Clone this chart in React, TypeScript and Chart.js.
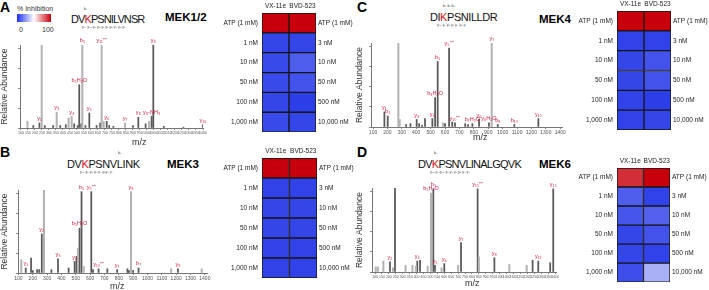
import React, { useEffect, useRef } from 'react';
import { Chart, registerables } from 'chart.js';
Chart.register(...registerables);

const FONT = '"Liberation Sans", Arial, Helvetica, sans-serif';
const RED = '#d3173e';
Chart.defaults.font.family = FONT;

// ---------- Spectra data (m/z, relative intensity %, dark bar flag, fragment label) ----------
const aMz = [146, 188, 232, 248, 270, 330, 355, 380, 420, 440, 462, 480, 505, 516, 530, 538, 560, 588, 640, 665, 676, 690, 712, 730, 760, 843, 900, 938, 990, 1015, 1033, 1045, 1120, 1260, 1400];
const aInt = [8, 3, 6, 100, 3, 3, 19, 3, 4, 12, 14, 5, 3, 52, 5, 100, 3, 18, 3, 6, 100, 8, 8, 3, 2, 6, 3, 13, 5, 8, 14, 100, 2, 1, 4];
const aDark = [0, 1, 1, 0, 1, 1, 0, 1, 1, 0, 0, 1, 1, 1, 1, 0, 1, 1, 1, 1, 0, 0, 1, 1, 1, 0, 1, 1, 1, 0, 1, 1, 1, 1, 1];
const aLbl = ['', '', 'y₁', '', '', '', 'y₃', '', '', '', 'y₄', '', '', 'b₅H₂O', '', 'b₅', '', 'y₅', '', '', 'y₁₁⁺⁺', '', 'y₆', '', '', 'y₇', '', 'y₈', '', '', 'y₈-NH₃', 'y₉', '', '', 'y₁₆'];

const bMz = [120, 151, 188, 200, 230, 245, 263, 278, 330, 376, 450, 492, 505, 515, 526, 540, 555, 608, 620, 659, 720, 788, 860, 870, 885, 900, 938, 1165, 1212, 1378];
const bInt = [16, 6, 18, 3, 4, 4, 47, 100, 4, 17, 6, 14, 20, 30, 54, 98, 8, 98, 4, 5, 5, 4, 5, 3, 98, 3, 6, 5, 5, 5];
const bDark = [0, 1, 1, 1, 1, 1, 1, 0, 1, 1, 1, 1, 1, 0, 1, 1, 0, 1, 1, 1, 1, 1, 1, 1, 0, 1, 1, 0, 1, 0];
const bLbl = ['', 'y₁', '', '', '', '', 'y₂', '', '', 'y₃', '', 'y₄', '', '', 'b₅H₂O', 'b₅', '', 'y₅⁺⁺', '', 'y₁₀⁺⁺', '', 'y₇', '', '', 'y₈', '', 'b₇', '', 'y₉', ''];

const cMz = [179, 202, 276, 285, 330, 360, 403, 420, 440, 461, 512, 531, 549, 585, 600, 628, 650, 669, 740, 760, 790, 836, 905, 924, 966, 1081, 1248];
const cInt = [18, 13, 100, 9, 3, 4, 9, 4, 2, 10, 10, 35, 78, 5, 4, 94, 6, 5, 4, 3, 4, 9, 5, 100, 3, 3, 10];
const cDark = [1, 1, 0, 0, 1, 1, 1, 1, 1, 1, 1, 1, 1, 0, 1, 1, 1, 1, 1, 1, 1, 1, 1, 0, 1, 1, 1];
const cLbl = ['y₁', 'b₂', '', '', '', '', 'y₃', '', '', '', 'y₄', 'b₃H₂O', 'b₅', '', '', 'y₅⁺⁺', '', 'y₁₀⁺⁺', '', '', 'b₇H₂O', 'y₆', 'y₆H₂O', 'y₇', 'b₉', 'b₁₀', 'y₁₀'];

const dMz = [105, 120, 160, 208, 230, 244, 320, 370, 395, 405, 425, 480, 504, 521, 533, 580, 600, 700, 721, 841, 850, 962, 1070, 1195, 1238, 1279, 1365, 1387];
const dInt = [6, 6, 13, 12, 5, 100, 8, 8, 7, 13, 14, 7, 94, 99, 8, 5, 10, 8, 35, 99, 18, 17, 9, 8, 14, 13, 11, 99];
const dDark = [0, 0, 0, 1, 0, 1, 0, 0, 0, 1, 1, 0, 0, 1, 1, 0, 1, 0, 1, 1, 0, 1, 0, 0, 1, 1, 1, 1];
const dLbl = ['', '', '', 'y₂', '', '', '', '', '', 'y₄', '', '', 'b₅H₂O', 'b₅', 'y₅', '', 'y₆', '', 'y₇', 'y₁₅⁺⁺', '', 'y₈', '', '', '', 'y₁₂', '', 'y₁₅'];

// ---------- Heatmap data (% inhibition) ----------
const drugs = ['VX-11e', 'BVD-523'];
const vxConc = ['ATP (1 mM)', '1 nM', '10 nM', '50 nM', '100 nM', '1,000 nM'];
const bvdConc = ['ATP (1 mM)', '3 nM', '10 nM', '50 nM', '500 nM', '10,000 nM'];
const aVX = [100, 3, 4, 4, 3, 4];
const aBVD = [100, 3, 9, 6, 1, 3];
const bVX = [100, 2, 3, 3, 2, 2];
const bBVD = [100, 2, 3, 3, 2, 2];
const cVX = [100, 2, 3, 3, 2, 2];
const cBVD = [100, 2, 6, 6, 1, 3];
const dVX = [91, 9, 7, 3, 3, 5];
const dBVD = [100, 2, 10, 6, 2, 30];

function cellColor(v: number): string {
  const lo = [40, 58, 232], mid = [255, 255, 255], hi = [200, 0, 12];
  let a: number[], b: number[], t: number;
  if (v <= 50) { a = lo; b = mid; t = v / 50; } else { a = mid; b = hi; t = (v - 50) / 50; }
  const c = a.map((x, i) => Math.round(x + (b[i] - x) * t));
  return `rgb(${c[0]},${c[1]},${c[2]})`;
}

const peakLabelPlugin = {
  id: 'peakLabels',
  afterDatasetsDraw(chart: any) {
    const ctx = chart.ctx;
    chart.data.datasets.forEach((ds: any, di: number) => {
      const labels = ds.peakLabels;
      if (!labels) return;
      const meta = chart.getDatasetMeta(di);
      meta.data.forEach((el: any, i: number) => {
        const t = labels[i];
        if (!t) return;
        ctx.save();
        ctx.fillStyle = RED;
        ctx.font = `5.5px ${FONT}`;
        ctx.textAlign = 'center';
        ctx.textBaseline = 'bottom';
        ctx.fillText(t, el.x, el.y - 1.5);
        ctx.restore();
      });
    });
  },
};

type SpecProps = {
  mz: number[]; inten: number[]; dark: number[]; labels: string[];
  left: number; top: number; w: number; h: number;
  plotL: number; plotT: number; plotR: number; plotB: number;
  xMin: number; xMax: number; step: number; tickSize: number;
};

function Spectrum(p: SpecProps) {
  const ref = useRef<HTMLCanvasElement>(null);
  useEffect(() => {
    const pick = (want: number) => {
      const pts: any[] = [];
      const lbs: string[] = [];
      p.mz.forEach((m, i) => {
        if (p.dark[i] === want) { pts.push({ x: m, y: p.inten[i] }); lbs.push(p.labels[i]); }
      });
      return { pts, lbs };
    };
    const L = pick(0), D = pick(1);
    const chart = new Chart(ref.current as HTMLCanvasElement, {
      type: 'bar',
      data: {
        datasets: [
          { data: L.pts, peakLabels: L.lbs, backgroundColor: '#b3b3b3', barThickness: 1.4, grouped: false } as any,
          { data: D.pts, peakLabels: D.lbs, backgroundColor: '#585858', barThickness: 1.1, grouped: false } as any,
        ],
      },
      options: {
        animation: false,
        responsive: false,
        maintainAspectRatio: false,
        layout: { padding: { top: p.plotT, right: p.w - p.plotR, left: 0, bottom: 0 } },
        plugins: { legend: { display: false }, tooltip: { enabled: false } },
        scales: {
          x: {
            type: 'linear', min: p.xMin, max: p.xMax, offset: false,
            ticks: { stepSize: p.step, includeBounds: false, autoSkip: false, maxRotation: 0, font: { size: p.tickSize }, color: '#555', padding: 1, callback: (v: any) => String(v) },
            grid: { drawOnChartArea: false, offset: false, tickLength: 2, color: '#888' },
            border: { color: '#777' },
            afterFit: (s: any) => { s.height = p.h - p.plotB; },
          },
          y: {
            min: 0, max: 100,
            ticks: { stepSize: 4, callback: () => '', padding: 0 },
            grid: { drawOnChartArea: false, tickLength: 2, color: '#888' },
            border: { color: '#777' },
            title: { display: true, text: 'Relative Abundance', font: { size: 8.5 }, color: '#333', padding: { top: 0, bottom: 0 } },
            afterFit: (s: any) => { s.width = p.plotL; },
          },
        },
      } as any,
      plugins: [peakLabelPlugin],
    });
    return () => chart.destroy();
  }, []);
  return <canvas ref={ref} width={p.w} height={p.h} style={{ position: 'absolute', left: p.left, top: p.top, width: p.w, height: p.h }} />;
}

type HeatProps = {
  vx: number[]; bvd: number[];
  left: number; top: number; w: number; h: number;
  plotL: number; plotT: number; plotR: number; plotB: number;
};

function Heatmap(p: HeatProps) {
  const ref = useRef<HTMLCanvasElement>(null);
  useEffect(() => {
    const tick = (pad: number) => ({ font: { size: 6.5 }, color: '#222', padding: pad, autoSkip: false, maxRotation: 0, minRotation: 0 });
    const chart = new Chart(ref.current as HTMLCanvasElement, {
      type: 'bar',
      data: {
        labels: vxConc,
        datasets: [
          { data: vxConc.map(() => 1), backgroundColor: p.vx.map(cellColor) },
          { data: vxConc.map(() => 1), backgroundColor: p.bvd.map(cellColor) },
        ],
      },
      options: {
        indexAxis: 'y',
        animation: false,
        responsive: false,
        maintainAspectRatio: false,
        layout: { padding: { top: 0, left: 0, right: 0, bottom: p.h - p.plotB } },
        datasets: { bar: { categoryPercentage: 1, barPercentage: 1, borderWidth: 1, borderColor: '#151515', borderSkipped: false } },
        plugins: { legend: { display: false }, tooltip: { enabled: false } },
        scales: {
          x: { stacked: true, min: 0, max: 2, display: false },
          xTop: {
            type: 'category', labels: drugs, position: 'top', offset: true,
            grid: { display: false, drawTicks: false }, border: { display: false },
            ticks: tick(2.5),
            afterFit: (s: any) => { s.height = p.plotT; },
          },
          y: {
            stacked: true, offset: true,
            grid: { display: false, drawTicks: false }, border: { display: false },
            ticks: tick(4),
            afterFit: (s: any) => { s.width = p.plotL; },
          },
          yRight: {
            type: 'category', labels: bvdConc, position: 'right', offset: true,
            grid: { display: false, drawTicks: false }, border: { display: false },
            ticks: tick(2),
            afterFit: (s: any) => { s.width = p.w - p.plotR; },
          },
        },
      } as any,
    });
    return () => chart.destroy();
  }, []);
  return <canvas ref={ref} width={p.w} height={p.h} style={{ position: 'absolute', left: p.left, top: p.top, width: p.w, height: p.h }} />;
}

const abs = (left: number, top: number, extra: any = {}): React.CSSProperties => ({
  position: 'absolute', left, top, lineHeight: 1, whiteSpace: 'nowrap', fontFamily: FONT, ...extra,
});

function Peptide({ seq, left, top, ls }: { seq: string; left: number; top: number; ls: number }) {
  return (
    <div style={abs(left, top, { fontSize: 11, letterSpacing: ls, color: '#111' })}>
      {seq.split('').map((c, i) => (
        <span key={i} style={{ color: i === 2 ? '#e0101e' : '#111' }}>{c}</span>
      ))}
    </div>
  );
}

const Small = ({ left, top, text }: { left: number; top: number; text: string }) => (
  <div style={abs(left, top, { fontSize: 3.6, color: '#444' })}>{text}</div>
);

export default function App() {
  useEffect(() => { document.body.style.margin = '0'; }, []);
  return (
    <div style={{ position: 'fixed', left: 0, top: 0, width: 709, height: 290, background: '#fff', overflow: 'hidden' }}>
      {/* panel letters */}
      <div style={abs(0, 0, { fontSize: 14, fontWeight: 'bold' })}>A</div>
      <div style={abs(0, 145, { fontSize: 14, fontWeight: 'bold' })}>B</div>
      <div style={abs(357, 0, { fontSize: 14, fontWeight: 'bold' })}>C</div>
      <div style={abs(357, 145, { fontSize: 14, fontWeight: 'bold' })}>D</div>

      {/* colour bar legend */}
      <div style={abs(17, 5, { fontSize: 7, color: '#333' })}>% Inhibition</div>
      <div style={{ position: 'absolute', left: 17, top: 14, width: 34, height: 8, background: 'linear-gradient(to right, rgb(30,50,235), #fff 50%, rgb(200,0,12))' }} />
      <div style={abs(19, 26, { fontSize: 7, color: '#333' })}>0</div>
      <div style={abs(42, 26, { fontSize: 7, color: '#333' })}>100</div>

      {/* peptides */}
      <Peptide seq="DVKPSNILVNSR" left={71} top={14} ls={-0.9} />
      <Small left={84} top={8} text="b₂" />
      <Small left={82} top={26} text="y₁₁ y₁₀  y₉ y₈ y₇   y₆ y₅ y₄ y₃ y₂" />
      <Peptide seq="DVKPSNVLINK" left={67} top={158.5} ls={-0.4} />
      <Small left={118} top={152} text="b₇" />
      <Small left={80} top={171} text="y₁₀ y₉  y₈  y₇       y₄ y₃y₂  y₁" />
      <Peptide seq="DIKPSNILLDR" left={430} top={11.5} ls={-0.45} />
      <Small left={443} top={5} text="b₂          b₇ b₈" />
      <Small left={437} top={24} text="y₁₀ y₉ y₈  y₇      y₄ y₃   y₁" />
      <Peptide seq="DVKPSNVLINALGQVK" left={418} top={158.5} ls={-0.75} />
      <Small left={434} top={152} text="b₂" />
      <Small left={430} top={171} text="y₁₅ y₁₄y₁₃     y₉  y₇ y₆ y₅ y₄     y₂" />

      {/* protein names */}
      <div style={abs(165, 11.5, { fontSize: 11.5, fontWeight: 'bold' })}>MEK1/2</div>
      <div style={abs(167, 158.5, { fontSize: 11.5, fontWeight: 'bold' })}>MEK3</div>
      <div style={abs(539, 13.5, { fontSize: 11.5, fontWeight: 'bold' })}>MEK4</div>
      <div style={abs(539, 158.5, { fontSize: 11.5, fontWeight: 'bold' })}>MEK6</div>

      {/* spectra */}
      <Spectrum mz={aMz} inten={aInt} dark={aDark} labels={aLbl} left={0} top={30} w={212} h={120}
        plotL={20} plotT={15} plotR={203} plotB={98} xMin={93} xMax={1400} step={50} tickSize={3.5} />
      <Spectrum mz={bMz} inten={bInt} dark={bDark} labels={bLbl} left={0} top={174} w={214} h={116}
        plotL={18} plotT={16} plotR={207} plotB={99} xMin={97} xMax={1415} step={100} tickSize={5} />
      <Spectrum mz={cMz} inten={cInt} dark={cDark} labels={cLbl} left={355} top={28} w={215} h={117}
        plotL={16} plotT={15} plotR={207} plotB={99} xMin={86} xMax={1412} step={100} tickSize={5} />
      <Spectrum mz={dMz} inten={dInt} dark={dDark} labels={dLbl} left={355} top={173} w={210} h={117}
        plotL={17} plotT={15} plotR={201} plotB={99} xMin={78} xMax={1407} step={50} tickSize={3.5} />

      {/* x axis titles */}
      <div style={abs(132, 138, { fontSize: 9, color: '#333' })}>m/z</div>
      <div style={abs(110, 282, { fontSize: 9, color: '#333' })}>m/z</div>
      <div style={abs(473, 133, { fontSize: 9, color: '#333' })}>m/z</div>
      <div style={abs(465, 279, { fontSize: 9, color: '#333' })}>m/z</div>

      {/* heatmaps */}
      <Heatmap vx={aVX} bvd={aBVD} left={200} top={0} w={160} h={140} plotL={62} plotT={13} plotR={116} plotB={133} />
      <Heatmap vx={bVX} bvd={bBVD} left={200} top={145} w={160} h={145} plotL={62} plotT={13} plotR={117} plotB={133} />
      <Heatmap vx={cVX} bvd={cBVD} left={555} top={0} w={154} h={140} plotL={62} plotT={11} plotR={116} plotB={130} />
      <Heatmap vx={dVX} bvd={dBVD} left={555} top={150} w={154} h={140} plotL={62} plotT={18} plotR={115} plotB={138} />
    </div>
  );
}
